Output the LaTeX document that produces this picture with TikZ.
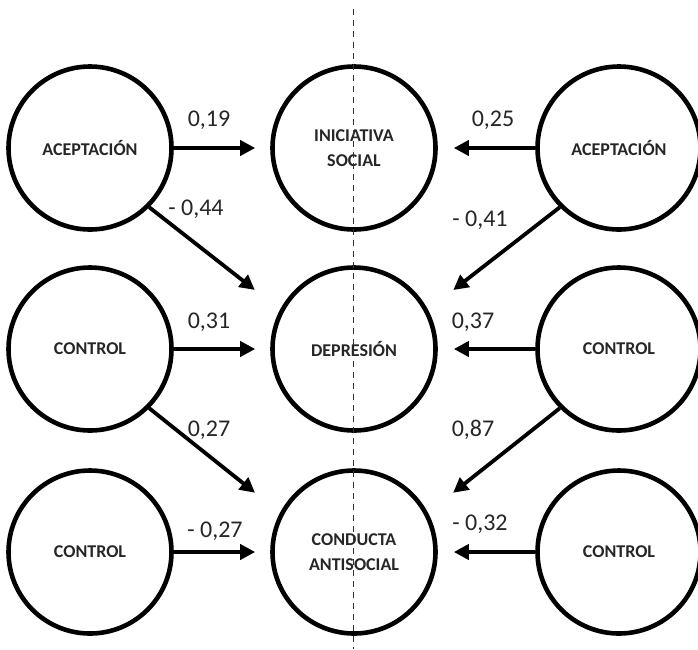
\documentclass[tikz,border=0pt]{standalone}
\usepackage{fontspec}
\setmainfont{Carlito}
\usetikzlibrary{arrows.meta}

\tikzset{
  var/.style={circle, draw=black, line width=4.6pt, minimum size=163pt, inner sep=0pt,
    align=center, text=black!85, font=\fontsize{18}{25}\selectfont\bfseries},
  path/.style={line width=3.8pt, -{Triangle[length=15pt,width=15pt]}},
  coef/.style={text=black!85, font=\fontsize{24}{26}\selectfont, inner sep=0pt}
}

\begin{document}
\begin{tikzpicture}[x=1pt,y=-1pt]
        \useasboundingbox (0,0) rectangle (698,649);

          % left column
          \node[var] (acepL) at (90,148) {ACEPTACIÓN};
          \node[var] (contL) at (90,349) {CONTROL};
          \node[var] (contLb) at (90,552) {CONTROL};

          % outcomes
          \node[var] (ini) at (354,148) {INICIATIVA\\SOCIAL};
          \node[var] (dep) at (354,349) {DEPRESIÓN};
          \node[var] (cond) at (354,552) {CONDUCTA\\ANTISOCIAL};

          % right column
          \node[var] (acepR) at (619,148) {ACEPTACIÓN};
          \node[var] (contR) at (619,349) {CONTROL};
          \node[var] (contRb) at (619,552) {CONTROL};

          \draw[path, shorten >=15pt] (acepL) -- (ini);
          \draw[path, shorten >=15pt] (contL) -- (dep);
          \draw[path, shorten >=15pt] (contLb) -- (cond);
          \draw[path, shorten >=32pt] (acepL.-45) -- (dep.152);
          \draw[path, shorten >=32pt] (contL.-45) -- (cond.152);

          \draw[path, shorten >=16pt] (acepR) -- (ini);
          \draw[path, shorten >=16pt] (contR) -- (dep);
          \draw[path, shorten >=16pt] (contRb) -- (cond);
          \draw[path, shorten >=32pt] (acepR.225) -- (dep.28);
          \draw[path, shorten >=32pt] (contR.225) -- (cond.28);

          \node[coef] (b1) at (209,120) {0,19};
          \node[coef] (b2) at (196,209) {- 0,44};
          \node[coef] (b3) at (209,322) {0,31};
          \node[coef] (b4) at (209,430) {0,27};
          \node[coef] (b5) at (215,531) {- 0,27};

          \node[coef] (b6) at (493,120) {0,25};
          \node[coef] (b7) at (480,220) {- 0,41};
          \node[coef] (b8) at (473,322) {0,37};
          \node[coef] (b9) at (473,430) {0,87};
          \node[coef] (b10) at (480,524) {- 0,32};

          % divider
          \coordinate (top) at (353.5,9);
          \coordinate (bot) at (353.5,649);
          \draw[black!80, line width=1.6pt, dash pattern=on 6pt off 5pt] (top) -- (bot);
        \end{tikzpicture}
\end{document}
